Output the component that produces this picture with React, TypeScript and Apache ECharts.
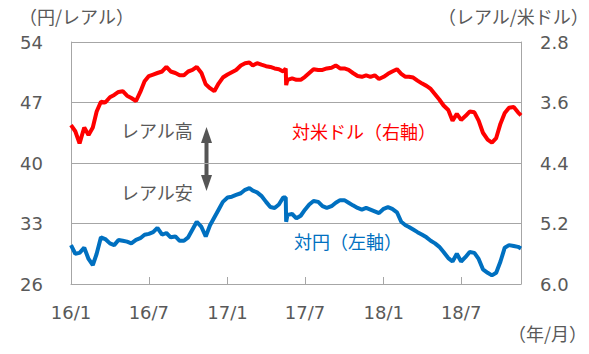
import React, { useEffect, useRef } from "react";
import * as echarts from "echarts";

const dates = [
  "2016-01-01","2016-01-11","2016-01-21","2016-02-01","2016-02-11","2016-02-21",
  "2016-03-01","2016-03-11","2016-03-21","2016-04-01","2016-04-11","2016-04-21",
  "2016-05-01","2016-05-11","2016-05-21","2016-06-01","2016-06-11","2016-06-21",
  "2016-07-01","2016-07-11","2016-07-21","2016-08-01","2016-08-11","2016-08-21",
  "2016-09-01","2016-09-11","2016-09-21","2016-10-01","2016-10-11","2016-10-21",
  "2016-11-01","2016-11-11","2016-11-21","2016-12-01","2016-12-11","2016-12-21",
  "2017-01-01","2017-01-11","2017-01-21","2017-02-01","2017-02-11","2017-02-21",
  "2017-03-01","2017-03-11","2017-03-21","2017-04-01","2017-04-11","2017-04-21",
  "2017-05-01","2017-05-11","2017-05-17","2017-05-18","2017-05-21",
  "2017-06-01","2017-06-11","2017-06-21","2017-07-01","2017-07-11","2017-07-21",
  "2017-08-01","2017-08-11","2017-08-21","2017-09-01","2017-09-11","2017-09-21",
  "2017-10-01","2017-10-11","2017-10-21","2017-11-01","2017-11-11","2017-11-21",
  "2017-12-01","2017-12-11","2017-12-21",
  "2018-01-01","2018-01-11","2018-01-21","2018-02-01","2018-02-11","2018-02-21",
  "2018-03-01","2018-03-11","2018-03-21","2018-04-01","2018-04-11","2018-04-21",
  "2018-05-01","2018-05-11","2018-05-21","2018-06-01","2018-06-11","2018-06-21",
  "2018-07-01","2018-07-11","2018-07-21","2018-08-01","2018-08-11","2018-08-21",
  "2018-09-01","2018-09-11","2018-09-21","2018-10-01","2018-10-11","2018-10-21",
  "2018-11-01","2018-11-11","2018-11-18",
];

// レアル/米ドル (right axis, inverted)
const brlPerUsd = [
  3.90, 3.98, 4.14, 3.93, 4.03, 3.93,
  3.72, 3.59, 3.60, 3.53, 3.50, 3.46,
  3.45, 3.51, 3.54, 3.58, 3.46, 3.32,
  3.25, 3.23, 3.21, 3.19, 3.13, 3.19,
  3.21, 3.24, 3.24, 3.19, 3.17, 3.13,
  3.21, 3.36, 3.41, 3.45, 3.35, 3.27,
  3.23, 3.20, 3.17, 3.11, 3.08, 3.07,
  3.11, 3.08, 3.10, 3.12, 3.13, 3.15,
  3.16, 3.19, 3.15, 3.37, 3.30,
  3.28, 3.30, 3.30, 3.26, 3.21, 3.16,
  3.17, 3.17, 3.15, 3.14, 3.11, 3.15,
  3.15, 3.17, 3.21, 3.25, 3.26, 3.24,
  3.26, 3.24, 3.29,
  3.26, 3.22, 3.19, 3.16, 3.22, 3.26,
  3.26, 3.27, 3.31, 3.35, 3.38, 3.42,
  3.49, 3.56, 3.64, 3.70, 3.84, 3.75,
  3.83, 3.78, 3.72, 3.73, 3.84, 4.00,
  4.09, 4.13, 4.07, 3.88, 3.74, 3.67,
  3.66, 3.73, 3.77,
];

// 円/レアル (left axis)
const jpyPerBrl = [
  30.5, 29.5, 29.6, 30.2, 28.9, 28.2,
  29.5, 31.4, 31.2, 30.7, 30.5, 31.1,
  31.0, 30.9, 30.7, 31.1, 31.3, 31.7,
  31.8, 32.0, 32.5, 31.7, 31.9, 31.4,
  31.5, 31.0, 31.0, 31.4, 32.3, 33.2,
  32.6, 31.5, 32.8, 33.7, 34.6, 35.5,
  36.0, 36.1, 36.3, 36.5, 36.9, 37.1,
  36.8, 36.6, 36.2, 35.5, 34.9, 34.8,
  35.2, 36.0, 36.0, 33.2, 34.0,
  34.1, 33.6, 33.9, 34.6, 35.2, 35.6,
  35.5, 35.0, 34.8, 35.0, 35.4, 35.7,
  35.7, 35.4, 35.1, 34.8, 34.6, 34.8,
  34.6, 34.4, 34.2,
  34.7, 34.9, 34.7, 34.3, 33.2, 32.8,
  32.6, 32.3, 32.0, 31.7, 31.4, 31.0,
  30.7, 30.3, 29.7, 29.0, 28.6, 29.5,
  28.6, 29.1, 29.7, 29.6, 28.9, 27.7,
  27.3, 27.0, 27.3, 28.6, 30.2, 30.5,
  30.4, 30.3, 30.1,
];

const xTickDates = ["2016-01-01", "2016-07-01", "2017-01-01", "2017-07-01", "2018-01-01", "2018-07-01"];
const xStart = "2016-01-01";
const xEnd = "2018-11-18";

const leftAxisTitle = "（円/レアル）";
const rightAxisTitle = "（レアル/米ドル）";
const xAxisTitle = "（年/月）";
const usdLabel = "対米ドル（右軸）";
const jpyLabel = "対円（左軸）";
const highLabel = "レアル高";
const lowLabel = "レアル安";

const RED = "#FF0000";
const BLUE = "#0070C0";
const GRAY_TEXT = "#595959";
const GRID_GRAY = "#a6a6a6";
const NUM_FONT = "'DejaVu Sans', 'Noto Sans CJK JP', sans-serif";
const JP_FONT = "'Noto Sans CJK JP', sans-serif";

const toTs = (s: string) => {
  const [y, m, d] = s.split("-").map(Number);
  return new Date(y, m - 1, d).getTime();
};

export default function App() {
  const ref = useRef<HTMLDivElement>(null);

  useEffect(() => {
    document.body.style.margin = "0";
    if (!ref.current) return;
    const chart = echarts.init(ref.current, undefined, { renderer: "svg" });
    const tickValues = xTickDates.map(toTs);

    chart.setOption({
      animation: false,
      backgroundColor: "#ffffff",
      grid: { left: 71, right: 68, top: 42, bottom: 70, containLabel: false },
      xAxis: {
        type: "value",
        min: toTs(xStart),
        max: toTs(xEnd),
        axisLine: { show: true, lineStyle: { color: GRID_GRAY, width: 1 } },
        axisTick: {
          show: true,
          inside: true,
          length: 7,
          customValues: tickValues,
          lineStyle: { color: GRID_GRAY },
        },
        axisLabel: {
          customValues: tickValues,
          margin: 19,
          color: GRAY_TEXT,
          fontSize: 18,
          fontFamily: NUM_FONT,
          formatter: (v: number) => {
            const d = new Date(v);
            return `${d.getFullYear() % 100}/${d.getMonth() + 1}`;
          },
        },
        splitLine: { show: false },
      },
      yAxis: [
        {
          type: "value",
          min: 26,
          max: 54,
          interval: 7,
          position: "left",
          axisLine: { show: true, lineStyle: { color: GRID_GRAY } },
          axisTick: { show: false },
          axisLabel: {
            margin: 28,
            color: GRAY_TEXT,
            fontSize: 18,
            fontFamily: NUM_FONT,
          },
          splitLine: { show: true, lineStyle: { color: GRID_GRAY, width: 1 } },
        },
        {
          type: "value",
          min: 2.8,
          max: 6.0,
          interval: 0.8,
          inverse: true,
          position: "right",
          axisLine: { show: true, lineStyle: { color: GRID_GRAY } },
          axisTick: { show: false },
          axisLabel: {
            margin: 19,
            color: GRAY_TEXT,
            fontSize: 18,
            fontFamily: NUM_FONT,
            formatter: (v: number) => v.toFixed(1),
          },
          splitLine: { show: false },
        },
      ],
      series: [
        {
          name: usdLabel,
          type: "line",
          yAxisIndex: 1,
          data: dates.map((d, i) => [toTs(d), brlPerUsd[i]]),
          showSymbol: false,
          lineStyle: { color: RED, width: 4 },
          itemStyle: { color: RED },
        },
        {
          name: jpyLabel,
          type: "line",
          yAxisIndex: 0,
          data: dates.map((d, i) => [toTs(d), jpyPerBrl[i]]),
          showSymbol: false,
          lineStyle: { color: BLUE, width: 4 },
          itemStyle: { color: BLUE },
        },
      ],
      graphic: [
        {
          type: "text",
          left: 19,
          top: 7,
          style: { text: leftAxisTitle, fill: GRAY_TEXT, fontSize: 18, fontFamily: JP_FONT },
        },
        {
          type: "text",
          right: 0,
          top: 7,
          style: { text: rightAxisTitle, fill: GRAY_TEXT, fontSize: 18, fontFamily: JP_FONT },
        },
        {
          type: "text",
          right: 2,
          top: 324,
          style: { text: xAxisTitle, fill: GRAY_TEXT, fontSize: 18, fontFamily: JP_FONT },
        },
        {
          type: "text",
          left: 121,
          top: 121,
          style: { text: highLabel, fill: GRAY_TEXT, fontSize: 18, fontFamily: JP_FONT },
        },
        {
          type: "text",
          left: 121,
          top: 183,
          style: { text: lowLabel, fill: GRAY_TEXT, fontSize: 18, fontFamily: JP_FONT },
        },
        {
          type: "text",
          left: 292,
          top: 122,
          style: { text: usdLabel, fill: RED, fontSize: 18, fontFamily: JP_FONT },
        },
        {
          type: "text",
          left: 294,
          top: 232,
          style: { text: jpyLabel, fill: BLUE, fontSize: 18, fontFamily: JP_FONT },
        },
        {
          type: "group",
          left: 201,
          top: 127,
          children: [
            { type: "rect", shape: { x: 3.5, y: 14, width: 4, height: 36 }, style: { fill: "#555555" } },
            { type: "polygon", shape: { points: [[5.5, 0], [0, 16], [11, 16]] }, style: { fill: "#555555" } },
            { type: "polygon", shape: { points: [[5.5, 64], [0, 48], [11, 48]] }, style: { fill: "#555555" } },
          ],
        },
      ],
    });

    return () => chart.dispose();
  }, []);

  return <div ref={ref} style={{ width: 589, height: 354 }} />;
}
